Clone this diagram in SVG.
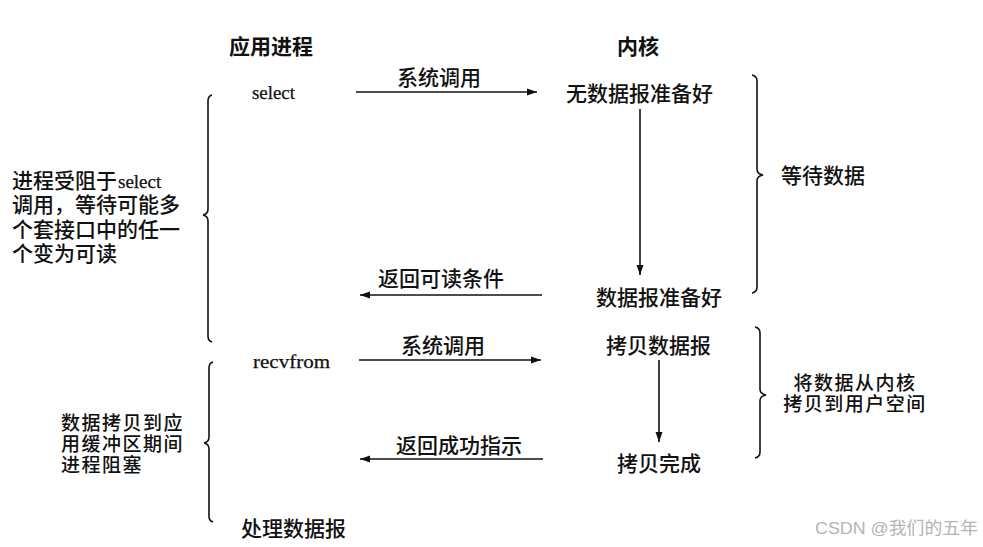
<svg xmlns="http://www.w3.org/2000/svg" width="983" height="547" viewBox="0 0 983 547">
  <style>
    .cjk { font-family: "Liberation Sans", "Noto Sans CJK SC", sans-serif; font-size: 21px; font-weight: 500; fill: #111; }
    .title { font-weight: bold; }
    .sm { font-size: 19px; letter-spacing: 1.5px; }
    .ser { font-family: "Liberation Serif", "Noto Sans CJK SC", serif; font-size: 19px; fill: #111; stroke: #111; stroke-width: 0.25; }
    .conn { stroke: #111; stroke-width: 1.6; fill: none; marker-end: url(#ah); }
    .brace { stroke: #111; stroke-width: 1.6; fill: none; }
    .wm { font-family: "Liberation Sans", "Noto Sans CJK SC", sans-serif; font-size: 17px; fill: #b4b4b4; }
  </style>
  <defs>
    <marker id="ah" markerUnits="userSpaceOnUse" markerWidth="11" markerHeight="8" refX="10" refY="4" orient="auto">
      <path d="M0,0.5 L10,4 L0,7.5 Z" fill="#111"/>
    </marker>
  </defs>
  <rect width="983" height="547" fill="#fff"/>

  <g id="title-app"><text class="cjk title" x="229" y="54">应用进程</text></g>
  <g id="title-kernel"><text class="cjk title" x="638" y="54" text-anchor="middle">内核</text></g>

  <g id="select"><text class="ser" x="252" y="99" textLength="43" lengthAdjust="spacingAndGlyphs">select</text></g>
  <g id="no-datagram"><text class="cjk" x="566" y="101">无数据报准备好</text></g>
  <g id="datagram-ready"><text class="cjk" x="596" y="305">数据报准备好</text></g>
  <g id="wait-data"><text class="cjk" x="781" y="183">等待数据</text></g>
  <g id="blocked-select">
    <text class="cjk" x="12" y="188">进程受阻于</text>
    <text class="ser" x="118" y="188">select</text>
    <text class="cjk" x="12" y="212">调用，等待可能多</text>
    <text class="cjk" x="12" y="237">个套接口中的任一</text>
    <text class="cjk" x="12" y="261">个变为可读</text>
  </g>

  <g id="recvfrom"><text class="ser" x="253" y="368" textLength="77" lengthAdjust="spacingAndGlyphs">recvfrom</text></g>
  <g id="copy-datagram"><text class="cjk" x="606" y="353">拷贝数据报</text></g>
  <g id="copy-done"><text class="cjk" x="617" y="471">拷贝完成</text></g>
  <g id="copy-kernel-user">
    <text class="cjk sm" x="855" y="390" text-anchor="middle">将数据从内核</text>
    <text class="cjk sm" x="855" y="411" text-anchor="middle">拷贝到用户空间</text>
  </g>
  <g id="blocked-copy">
    <text class="cjk sm" x="61" y="430">数据拷贝到应</text>
    <text class="cjk sm" x="61" y="451">用缓冲区期间</text>
    <text class="cjk sm" x="61" y="472">进程阻塞</text>
  </g>
  <g id="process-datagram"><text class="cjk" x="241" y="536">处理数据报</text></g>

  <g id="connectors">
    <line class="conn" x1="356" y1="92" x2="537" y2="92"/>
    <text class="cjk" x="397" y="85">系统调用</text>
    <line class="conn" x1="640" y1="109" x2="640" y2="275"/>
    <line class="conn" x1="542" y1="295" x2="360" y2="295"/>
    <text class="cjk" x="378" y="286">返回可读条件</text>
    <line class="conn" x1="359" y1="360" x2="541" y2="360"/>
    <text class="cjk" x="401" y="353">系统调用</text>
    <line class="conn" x1="659" y1="360" x2="659" y2="442"/>
    <line class="conn" x1="543" y1="459" x2="360" y2="459"/>
    <text class="cjk" x="396" y="453">返回成功指示</text>
  </g>

  <g id="braces">
    <path class="brace" d="M212,95 Q208,96 208,101 L208,209 Q208,214 203,215 Q208,216 208,221 L208,336 Q208,341 212,342"/>
    <path class="brace" d="M213,362 Q209,363 209,368 L209,437 Q209,442 204,443 Q209,444 209,449 L209,516 Q209,521 213,522"/>
    <path class="brace" d="M752,75 Q757,76 757,81 L757,169 Q757,174 763,175 Q757,176 757,181 L757,287 Q757,292 752,293"/>
    <path class="brace" d="M755,327 Q760,328 760,333 L760,389 Q760,394 766,395 Q760,396 760,401 L760,452 Q760,457 755,458"/>
  </g>

  <g id="watermark"><text class="wm" x="815" y="534" textLength="163" lengthAdjust="spacingAndGlyphs">CSDN @我们的五年</text></g>
</svg>
